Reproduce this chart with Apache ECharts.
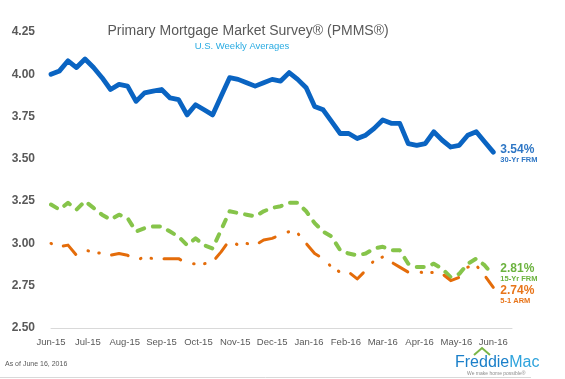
<!DOCTYPE html>
<html><head><meta charset="utf-8">
<script src="https://cdn.jsdelivr.net/npm/echarts@6/dist/echarts.min.js"></script>
<style>html,body{margin:0;padding:0;background:#fff}#c{width:565px;height:379px}</style>
</head><body><div id="c"></div>
<script>
// Month tick labels (first label at first week, last label at last week)
const monthLabels = ['Jun-15','Jul-15','Aug-15','Sep-15','Oct-15','Nov-15','Dec-15','Jan-16','Feb-16','Mar-16','Apr-16','May-16','Jun-16'];
const yTicks = [2.50, 2.75, 3.00, 3.25, 3.50, 3.75, 4.00, 4.25];
const seriesNames = ['30-Yr FRM', '15-Yr FRM', '5-1 ARM'];
// Weekly rates, Jun 18 2015 .. Jun 16 2016
const frm30 = [4.00,4.02,4.08,4.04,4.09,4.04,3.98,3.91,3.94,3.93,
               3.84,3.89,3.90,3.91,3.86,3.85,3.76,3.82,3.79,3.76,
               3.87,3.98,3.97,3.95,3.93,3.95,3.97,3.96,4.01,3.97,
               3.92,3.81,3.79,3.72,3.65,3.65,3.62,3.64,3.68,3.73,
               3.71,3.71,3.59,3.58,3.59,3.66,3.61,3.57,3.58,3.64,
               3.66,3.60,3.54];
const frm15 = [3.23,3.20,3.24,3.20,3.25,3.21,3.17,3.14,3.17,3.15,
               3.07,3.09,3.10,3.10,3.07,3.04,2.99,3.03,2.99,2.97,
               3.08,3.19,3.18,3.17,3.16,3.19,3.21,3.22,3.24,3.24,
               3.19,3.12,3.07,3.04,2.96,2.94,2.93,2.94,2.97,2.98,
               2.96,2.96,2.88,2.86,2.86,2.88,2.85,2.80,2.82,2.88,
               2.91,2.87,2.81];
const arm51 = [3.00,2.98,2.99,2.93,2.96,2.95,2.94,2.93,2.94,2.93,
               2.90,2.92,2.91,2.91,2.91,2.91,2.88,2.88,2.88,2.89,
               2.95,3.02,2.99,3.00,2.99,3.02,3.03,3.05,3.07,3.06,
               3.00,2.94,2.91,2.86,2.83,2.83,2.79,2.84,2.90,2.92,
               2.89,2.86,2.83,2.84,2.82,2.83,2.82,2.78,2.80,2.86,
               2.87,2.81,2.74];

const lastWeek = frm30.length - 1;
const weekMax = 54.2;
const monthStep = lastWeek / (monthLabels.length - 1);

const chart = echarts.init(document.getElementById('c'), null, {renderer: 'canvas'});
const FONT = '"Liberation Sans", Arial, sans-serif';

function endLbl(name, color, dy) {
  return {
    show: true, distance: 7, offset: [0, dy],
    formatter: p => '{v|' + p.value[1].toFixed(2) + '%}\n{n|' + name + '}',
    rich: {
      v: {fontSize: 12, fontWeight: 'bold', color: color, lineHeight: 11, fontFamily: FONT},
      n: {fontSize: 7.5, fontWeight: 'bold', color: color, lineHeight: 9, fontFamily: FONT}
    }
  };
}

const option = {
  animation: false,
  backgroundColor: '#ffffff',
  textStyle: {fontFamily: FONT},
  grid: {left: 51, right: 53, top: 32, bottom: 51, containLabel: false},
  xAxis: {
    type: 'value', min: 0, max: weekMax, interval: monthStep,
    axisLine: {show: true, lineStyle: {color: '#d9d9d9', width: 1}},
    axisTick: {show: false}, splitLine: {show: false},
    axisLabel: {
      margin: 9, fontSize: 9.5, color: '#595959', showMaxLabel: true,
      formatter: v => { const k = Math.round(v / monthStep); return (Math.abs(v - k * monthStep) < 0.01 && monthLabels[k]) ? monthLabels[k] : ''; }
    }
  },
  yAxis: {
    type: 'value', min: yTicks[0], max: yTicks[yTicks.length - 1], interval: 0.25,
    axisLine: {show: false}, axisTick: {show: false}, splitLine: {show: false},
    axisLabel: {margin: 16, fontSize: 12, fontWeight: 'bold', color: '#595959', formatter: v => v.toFixed(2)}
  },
  labelLayout: {hideOverlap: false},
  series: [
    {
      name: seriesNames[1], type: 'line', symbol: 'none', z: 2,
      data: frm15.map((v, i) => [i, v]),
      lineStyle: {color: '#86c44a', width: 4, type: [7, 9], cap: 'round', join: 'round'},
      endLabel: endLbl(seriesNames[1], '#6cb33f', -2)
    },
    {
      name: seriesNames[2], type: 'line', symbol: 'none', z: 3,
      data: arm51.map((v, i) => [i, v]),
      lineStyle: {color: '#e46c0a', width: 3, type: [17, 14, 0.5, 10.5, 0.5, 12.5], dashOffset: 42, cap: 'round', join: 'round'},
      endLabel: endLbl(seriesNames[2], '#e8751a', 8)
    },
    {
      name: seriesNames[0], type: 'line', symbol: 'none', z: 4,
      data: frm30.map((v, i) => [i, v]),
      lineStyle: {color: '#0a64c2', width: 4.8, join: 'round', cap: 'round'},
      endLabel: endLbl(seriesNames[0], '#2f77c5', 2)
    }
  ],
  graphic: [
    {type: 'text', x: 248, y: 31, style: {text: 'Primary Mortgage Market Survey® (PMMS®)', fill: '#595959', font: '14px ' + FONT, align: 'center', verticalAlign: 'middle', textAlign: 'center', textVerticalAlign: 'middle'}},
    {type: 'text', x: 242, y: 46, style: {text: 'U.S. Weekly Averages', fill: '#29abe2', font: '9.5px ' + FONT, align: 'center', verticalAlign: 'middle', textAlign: 'center', textVerticalAlign: 'middle'}},
    {type: 'text', x: 5, y: 364, style: {text: 'As of June 16, 2016', fill: '#595959', font: '7px ' + FONT, align: 'left', verticalAlign: 'middle', textAlign: 'left', textVerticalAlign: 'middle'}},
    {type: 'text', x: 455, y: 363, style: {text: '{a|Freddie}{b|Mac}', fill: '#1a7fc9', font: '16px ' + FONT, align: 'left', verticalAlign: 'middle', textAlign: 'left', textVerticalAlign: 'middle',
      rich: {a: {fontSize: 16, fill: '#1a7fc9', color: '#1a7fc9', fontFamily: FONT}, b: {fontSize: 16, fill: '#2ea3dc', color: '#2ea3dc', fontFamily: FONT}}}},
    {type: 'polyline', shape: {points: [[474, 355], [482, 348], [490, 355]]}, style: {stroke: '#7ab648', lineWidth: 2, fill: null}},
    {type: 'text', x: 467, y: 374, style: {text: 'We make home possible\u00AE', fill: '#8c8c8c', font: '5px ' + FONT, align: 'left', verticalAlign: 'middle', textAlign: 'left', textVerticalAlign: 'middle'}},
    {type: 'line', shape: {x1: 0, y1: 377.5, x2: 531, y2: 377.5}, style: {stroke: '#d9d9d9', lineWidth: 1}}
  ]
};
chart.setOption(option);
</script>
</body></html>
